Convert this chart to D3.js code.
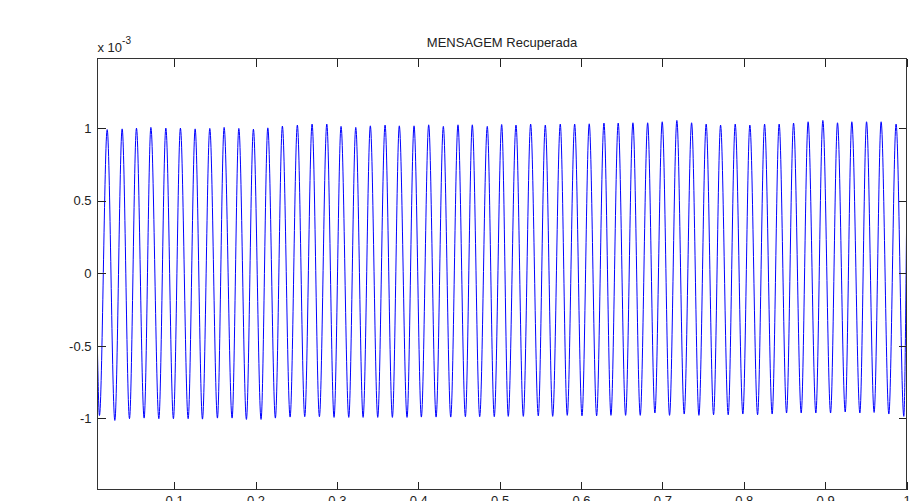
<!DOCTYPE html>
<html>
<head>
<meta charset="utf-8">
<script src="https://cdn.jsdelivr.net/npm/d3@7"></script>
<style>
  body { margin: 0; background: #fff; }
  text { font-family: "Liberation Sans", Arial, sans-serif; fill: #222; }
</style>
</head>
<body>
<script>

// values are in units of 1e-3 (the axis shows "x 10^-3")
var peakTimes = [0.0177, 0.0361, 0.0537, 0.0714, 0.0898, 0.1077, 0.1258, 0.1438, 0.1614, 0.1795,
  0.1974, 0.2151, 0.2330, 0.2514, 0.2695, 0.2876, 0.3051, 0.3232, 0.3411, 0.3592,
  0.3767, 0.3948, 0.4128, 0.4308, 0.4488, 0.4664, 0.4848, 0.5025, 0.5201, 0.5381,
  0.5561, 0.5745, 0.5922, 0.6101, 0.6282, 0.6457, 0.6638, 0.6819, 0.6998, 0.7178,
  0.7359, 0.7538, 0.7715, 0.7895, 0.8075, 0.8256, 0.8435, 0.8612, 0.8791, 0.8972,
  0.9152, 0.9328, 0.9509, 0.9688, 0.9872];
var peakValues = [0.990, 0.995, 1.000, 1.005, 1.000, 1.000, 0.995, 0.998, 1.005, 0.998,
  0.993, 1.002, 1.014, 1.021, 1.028, 1.028, 1.012, 1.005, 1.016, 1.021,
  1.016, 1.016, 1.023, 1.012, 1.023, 1.023, 1.012, 1.025, 1.021, 1.028,
  1.021, 1.028, 1.028, 1.030, 1.035, 1.035, 1.037, 1.037, 1.044, 1.053,
  1.037, 1.028, 1.021, 1.028, 1.021, 1.028, 1.028, 1.035, 1.044, 1.053,
  1.037, 1.044, 1.044, 1.044, 1.028];

var troughTimes = [0.0082, 0.0271, 0.0451, 0.0631, 0.0812, 0.0991, 0.1172, 0.1348, 0.1532, 0.1712,
  0.1888, 0.2068, 0.2244, 0.2425, 0.2605, 0.2785, 0.2965, 0.3146, 0.3322, 0.3502,
  0.3682, 0.3862, 0.4038, 0.4219, 0.4399, 0.4579, 0.4755, 0.4934, 0.5106, 0.5291,
  0.5475, 0.5652, 0.5831, 0.6012, 0.6192, 0.6368, 0.6548, 0.6728, 0.6908, 0.7088,
  0.7268, 0.7449, 0.7629, 0.7809, 0.7989, 0.8170, 0.8349, 0.8526, 0.8706, 0.8886,
  0.9067, 0.9247, 0.9427, 0.9602, 0.9783, 0.9967];
var troughValues = [-0.980, -1.014, -1.002, -0.998, -1.002, -1.002, -1.002, -1.005, -0.998, -0.998,
  -1.007, -1.007, -0.998, -0.991, -0.988, -0.988, -0.993, -0.993, -0.993, -0.993,
  -0.993, -0.993, -0.991, -0.991, -0.991, -0.988, -0.988, -0.988, -0.986, -0.986,
  -0.982, -0.986, -0.979, -0.982, -0.982, -0.979, -0.979, -0.979, -0.963, -0.979,
  -0.970, -0.979, -0.975, -0.975, -0.970, -0.975, -0.970, -0.963, -0.963, -0.963,
  -0.963, -0.956, -0.963, -0.959, -0.970, -0.986];

// first and last samples of the trace
var startPoint = {t: 0.0058, v: -0.55};
var endPoint = {t: 1.0, v: 0.28};

var xTicks = [0.1, 0.2, 0.3, 0.4, 0.5, 0.6, 0.7, 0.8, 0.9, 1];
var yTicks = [-1, -0.5, 0, 0.5, 1];
var title = "MENSAGEM Recuperada";

var W = 922, H = 501;
var margin = {left: 97.5, right: 906.5, top: 58.5, bottom: 489.5};

var svg = d3.select("body").append("svg")
    .attr("width", W)
    .attr("height", H);

var x = d3.scaleLinear().domain([0.0058, 1]).range([margin.left, margin.right]);
var y = d3.scaleLinear().domain([-1.49, 1.48]).range([margin.bottom, margin.top]);

// build trace from the read extrema
var data = [startPoint];
peakTimes.forEach(function(t, i) { data.push({t: t, v: peakValues[i]}); });
troughTimes.forEach(function(t, i) { data.push({t: t, v: troughValues[i]}); });
data.push(endPoint);
data.sort(function(a, b) { return a.t - b.t; });

svg.append("defs").append("clipPath")
    .attr("id", "clip")
  .append("rect")
    .attr("x", margin.left - 1)
    .attr("y", margin.top)
    .attr("width", margin.right - margin.left + 2)
    .attr("height", margin.bottom - margin.top);

var line = d3.line()
    .curve(d3.curveMonotoneX)
    .x(function(d) { return x(d.t); })
    .y(function(d) { return y(d.v); });

svg.append("path")
    .datum(data)
    .attr("clip-path", "url(#clip)")
    .attr("fill", "none")
    .attr("stroke", "#0000ff")
    .attr("stroke-width", 1)
    .attr("d", line);

// axes (ticks point inward, box around the plot)
function fmt(d) { return String(d); }

svg.append("g")
    .attr("transform", "translate(" + margin.left + ",0)")
    .call(d3.axisLeft(y).tickValues(yTicks).tickFormat(fmt).tickSizeInner(-8).tickSizeOuter(0).tickPadding(6));

svg.append("g")
    .attr("transform", "translate(" + margin.right + ",0)")
    .call(d3.axisRight(y).tickValues(yTicks).tickFormat("").tickSizeInner(-8).tickSizeOuter(0));

svg.append("g")
    .attr("transform", "translate(0," + margin.bottom + ")")
    .call(d3.axisBottom(x).tickValues(xTicks).tickFormat(fmt).tickSizeInner(-8).tickSizeOuter(0).tickPadding(6));

svg.append("g")
    .attr("transform", "translate(0," + margin.top + ")")
    .call(d3.axisTop(x).tickValues(xTicks).tickFormat("").tickSizeInner(-8).tickSizeOuter(0));

svg.selectAll(".domain").remove();
svg.selectAll(".tick line").attr("stroke", "#222").attr("shape-rendering", "crispEdges");
svg.selectAll(".tick text")
    .attr("font-size", 13)
    .attr("font-family", "Liberation Sans, Arial, sans-serif")
    .attr("fill", "#222");

svg.append("rect")
    .attr("x", margin.left)
    .attr("y", margin.top)
    .attr("width", margin.right - margin.left)
    .attr("height", margin.bottom - margin.top)
    .attr("fill", "none")
    .attr("stroke", "#333")
    .attr("shape-rendering", "crispEdges");

// title
svg.append("text")
    .attr("x", (margin.left + margin.right) / 2)
    .attr("y", 47)
    .attr("text-anchor", "middle")
    .attr("font-size", 13)
    .text(title);

// exponent label
var expo = svg.append("text")
    .attr("x", margin.left)
    .attr("y", 51.5)
    .attr("font-size", 13)
    .text("x 10");
expo.append("tspan")
    .attr("dy", -8)
    .attr("font-size", 10)
    .text("-3");

</script>
</body>
</html>
